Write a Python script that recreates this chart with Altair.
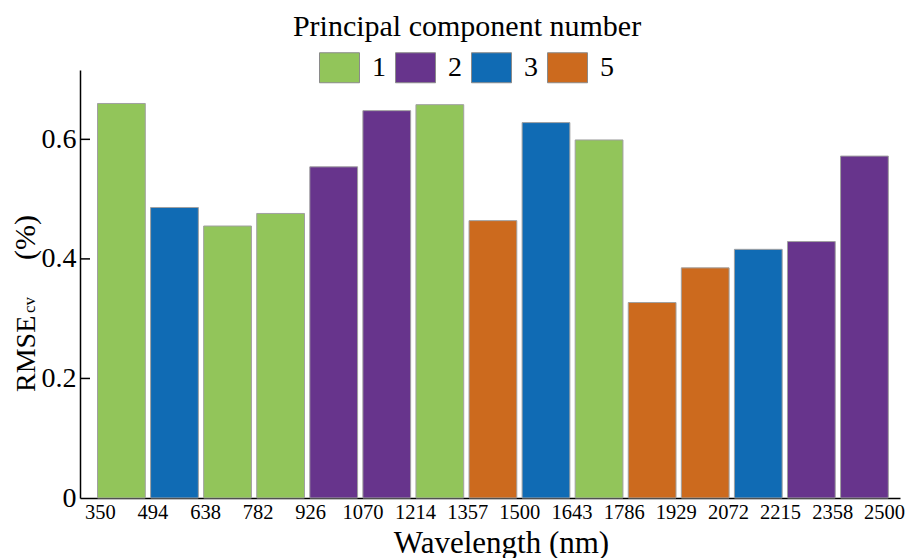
import altair as alt
import pandas as pd

wavelength_ticks = [350, 494, 638, 782, 926, 1070, 1214, 1357, 1500, 1643,
                    1786, 1929, 2072, 2215, 2358, 2500]
pc_numbers = ["1", "3", "1", "1", "2", "2", "1", "5", "3", "1", "5", "5", "3", "2", "2"]
rmse_values = [0.660, 0.486, 0.455, 0.476, 0.554, 0.648, 0.658, 0.464,
               0.628, 0.599, 0.327, 0.385, 0.416, 0.429, 0.572]
legend_order = ["1", "2", "3", "5"]
legend_colors = ["#92C55A", "#67348C", "#106BB4", "#CC6A1E"]
y_ticks = [0, 0.2, 0.4, 0.6]

FONT = "Liberation Serif"

df = pd.DataFrame({
    "start": wavelength_ticks[:-1],
    "pc": pc_numbers,
    "rmse": rmse_values,
})
tick_labels_df = pd.DataFrame({"w": wavelength_ticks})

x_scale = alt.Scale(domain=[295.2, 2543.9], nice=False, zero=False)
y_scale = alt.Scale(domain=[0, 0.716], nice=False)

y_axis = alt.Axis(values=y_ticks, title=None, ticks=False, labelPadding=4,
                  labelExpr="datum.value == 0 ? '0' : format(datum.value, '.1f')",
                  labelFont=FONT, labelFontSize=28, labelColor="black",
                  grid=False, domainColor="black", domainWidth=1.5)

bars = alt.Chart(df).mark_bar(stroke="#a0a0a0", strokeWidth=1, opacity=1).encode(
    x=alt.X("start:O", axis=None,
            scale=alt.Scale(paddingInner=0.1, paddingOuter=0.275, align=0.6)),
    y=alt.Y("rmse:Q", scale=y_scale, axis=y_axis),
    color=alt.Color("pc:N", scale=alt.Scale(domain=legend_order, range=legend_colors),
                    legend=alt.Legend(title="Principal component number", orient="none",
                                      legendX=213, legendY=-58, direction="horizontal",
                                      titleAnchor="middle", titleFont=FONT, titleFontSize=30,
                                      titleFontWeight="normal", titleColor="black",
                                      titleLimit=800, titlePadding=5,
                                      labelFont=FONT, labelFontSize=28, labelColor="black",
                                      symbolType="M-1,-0.75L1,-0.75L1,0.75L-1,0.75Z",
                                      symbolSize=1600, symbolStrokeColor="#8a8a8a",
                                      symbolStrokeWidth=1, symbolOpacity=1,
                                      labelOffset=12, columnPadding=7, padding=0)),
)

x_axis_layer = alt.Chart(tick_labels_df).mark_point(opacity=0).encode(
    x=alt.X("w:Q", scale=x_scale,
            axis=alt.Axis(values=wavelength_ticks, format="d", title="Wavelength (nm)",
                          ticks=False, labelPadding=4, labelFont=FONT, labelFontSize=20.5,
                          labelColor="black", labelFlush=False, labelOverlap=False,
                          titleFont=FONT, titleFontSize=31, titleFontWeight="normal",
                          titleColor="black", titlePadding=6, titleX=421,
                          titleAlign="center", grid=False,
                          domainColor="black", domainWidth=1.5)),
)

tick_df = pd.DataFrame({"v": y_ticks[1:]})
ticks = alt.Chart(tick_df).mark_rule(color="black", strokeWidth=1.5).encode(
    y=alt.Y("v:Q", scale=y_scale, axis=y_axis),
    x=alt.value(0),
    x2=alt.value(10),
)

title_main = alt.Chart(pd.DataFrame({"t": ["RMSE"]})).mark_text(
    angle=270, align="left", baseline="alphabetic", font=FONT, fontSize=28, color="black"
).encode(text="t:N", x=alt.value(-45), y=alt.value(322))

title_sub = alt.Chart(pd.DataFrame({"t": ["cv"]})).mark_text(
    angle=270, align="left", baseline="alphabetic", font=FONT, fontSize=17, color="black"
).encode(text="t:N", x=alt.value(-45), y=alt.value(243))

title_unit = alt.Chart(pd.DataFrame({"t": ["(%)"]})).mark_text(
    angle=270, align="left", baseline="alphabetic", font=FONT, fontSize=30, color="black"
).encode(text="t:N", x=alt.value(-45), y=alt.value(190))

chart = alt.layer(bars, x_axis_layer, ticks, title_main, title_sub, title_unit).resolve_scale(
    x="independent"
).properties(
    width=820, height=428,
    autosize=alt.AutoSizeParams(type="none"),
    padding={"left": 72, "top": 62, "right": 6, "bottom": 60},
).configure_view(stroke=None)

chart.save("out.html", embed_options={"renderer": "svg", "actions": False})
